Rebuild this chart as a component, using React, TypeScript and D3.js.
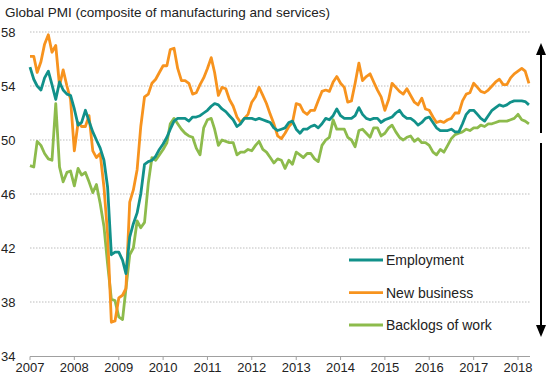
import React from "react";
import * as d3 from "d3";

// Monthly readings, Jan 2007 .. Apr 2018
const START_YEAR = 2007;
const employment = [
  55.4, 54.5, 54.0, 53.7, 54.6, 55.1, 54.1, 53.0, 54.3, 53.7, 53.4, 53.3,
  52.3, 51.1, 51.3, 52.2, 51.4, 50.6, 50.0, 49.4, 48.5, 46.5, 41.5, 41.7,
  41.7, 41.1, 40.1, 42.8, 43.8, 44.6, 46.0, 48.2, 48.4, 48.5, 48.8, 49.3,
  49.7, 50.2, 50.8, 51.4, 51.6, 51.6, 51.6, 51.4, 51.7, 51.7, 51.8, 52.0,
  52.2, 52.5, 52.7, 52.6, 52.3, 52.1, 51.8, 51.5, 51.0, 51.2, 51.6, 51.6,
  51.6, 51.5, 51.6, 51.5, 51.4, 51.3, 50.9, 50.7, 50.8, 50.9, 51.3, 51.4,
  50.8, 50.5, 50.8, 50.8, 51.0, 51.1, 50.9, 51.2, 51.6, 51.5, 51.8, 52.3,
  51.8, 51.6, 51.6, 51.6, 51.8, 52.4, 51.9, 51.6, 51.5, 51.6, 51.6, 51.3,
  51.5, 51.6, 51.7, 52.0, 52.2, 51.8, 51.6, 51.6, 51.4, 51.1, 51.3, 51.6,
  51.7, 51.3, 50.9, 50.7, 50.7, 50.7, 50.8, 50.6, 50.6, 51.2, 51.9, 52.2,
  52.2, 51.9, 51.6, 51.4, 51.8, 52.2, 52.4, 52.6, 52.5, 52.6, 52.8, 52.9,
  52.9, 52.9, 52.85, 52.6,
];
const newBusiness = [
  56.2, 56.2, 55.0, 55.8, 57.1, 57.8, 56.5, 57.0, 54.0, 55.2, 54.0, 53.0,
  49.2, 51.3, 51.0, 51.0, 51.8, 49.2, 48.7, 49.0, 46.5, 43.0, 36.5, 36.6,
  38.3, 38.5, 39.0, 45.4, 46.3, 47.8, 51.0, 53.2, 53.4, 54.2, 54.5, 55.0,
  55.5, 55.5, 56.7, 56.8, 55.3, 54.4, 54.4, 54.2, 53.4, 53.5, 54.1, 54.6,
  55.3, 56.1, 55.0, 53.3, 53.9, 53.8, 53.0, 52.5, 51.7, 51.3, 51.6, 51.9,
  52.8, 53.2, 53.9, 53.3, 52.7, 51.9, 51.2, 50.3, 50.1, 50.5, 51.0, 51.3,
  52.7, 52.6, 52.1, 51.9, 52.2, 52.2, 52.9, 53.6, 53.7, 53.6, 54.3, 54.7,
  54.2, 53.9, 52.8, 52.9, 54.2, 55.7, 54.4, 54.7, 54.9, 54.3, 53.7, 53.2,
  52.2, 53.0, 54.2, 53.9, 53.6, 53.4, 53.8, 53.3, 52.8, 52.6, 53.1, 52.3,
  52.2, 51.7, 51.3, 51.4, 51.3, 51.5, 51.6, 52.0, 52.0, 52.9, 53.4, 53.5,
  54.2, 53.9, 53.6, 53.5, 53.7, 54.0, 54.3, 54.5, 54.1, 54.1, 54.6, 54.9,
  55.1, 55.3, 55.1, 54.2,
];
const backlogs = [
  48.1, 48.0, 49.9, 49.6, 49.0, 48.6, 48.5, 52.7, 48.0, 46.9, 47.6, 47.7,
  46.6, 47.9, 47.4, 47.6, 46.9, 46.1, 46.7, 45.3, 43.6, 40.8, 38.2, 38.1,
  36.9, 36.7, 39.0, 41.5, 42.0, 44.0, 43.5, 43.9, 46.8, 48.7, 48.5, 48.9,
  49.3, 49.8, 51.2, 51.6, 51.2, 50.8, 50.5, 50.3, 50.2, 49.4, 48.9, 50.9,
  51.5, 51.6, 50.8, 49.6, 50.0, 49.9, 49.8, 49.8, 48.9, 49.1, 49.1, 49.3,
  49.2, 49.6, 49.9, 49.3, 49.1, 48.7, 48.3, 48.6, 48.5, 47.9, 48.5, 48.2,
  49.1, 48.9, 48.7, 49.0, 49.0, 48.6, 48.4, 49.6, 50.0, 50.2, 51.5, 50.8,
  50.8, 50.8, 50.2, 50.0, 49.5, 50.7, 50.8, 50.5, 50.2, 50.9, 50.9, 50.3,
  50.5, 50.9, 51.1, 50.6, 50.2, 50.0, 50.2, 50.3, 49.9, 50.1, 49.8, 49.8,
  49.6, 49.1, 48.9, 49.3, 49.1, 49.6, 50.1, 50.4, 50.5, 50.6, 50.8, 50.7,
  50.9, 50.9, 51.1, 51.0, 51.2, 51.2, 51.3, 51.4, 51.4, 51.4, 51.5, 51.6,
  51.9, 51.5, 51.4, 51.2,
];
const yearTicks = [2007, 2008, 2009, 2010, 2011, 2012, 2013, 2014, 2015, 2016, 2017, 2018];
const valueTicks = [34, 38, 42, 46, 50, 54, 58];
const seriesNames = ["Employment", "New business", "Backlogs of work"];
const seriesColors = ["#11918a", "#f7931e", "#8dbb4c"];
const title = "Global PMI (composite of manufacturing and services)";

const W = 550;
const H = 383;
const FONT = "'Liberation Sans', Arial, sans-serif";

export default function App() {
  const x = d3
    .scaleTime()
    .domain([new Date(2007, 0, 1), new Date(2018, 0, 1)])
    .range([30, 518]);
  const y = d3.scaleLinear().domain([34, 58]).range([356, 32]);
  const dates = employment.map((_, i) => new Date(START_YEAR, i, 1));
  const line = d3
    .line<number>()
    .x((_, i) => x(dates[i]))
    .y((v) => y(v));
  const series = [employment, newBusiness, backlogs];
  const gridRight = 530;
  const arrowX = 541;
  const legendY = [260, 292.7, 325];

  return (
    <svg
      width={W}
      height={H}
      style={{ position: "absolute", left: 0, top: 0, background: "#fff" }}
      fontFamily={FONT}
    >
      <text x={5} y={17} fontSize={13.5} fill="#222">
        {title}
      </text>
      {valueTicks.map((t) => (
        <g key={t}>
          {t !== 34 && (
            <line
              x1={30}
              x2={gridRight}
              y1={y(t)}
              y2={y(t)}
              stroke="#bdbdbd"
              strokeWidth={1}
              strokeDasharray="1.5,1.5"
            />
          )}
          <text x={1} y={y(t)} dy="0.36em" fontSize={13} fill="#222">
            {t}
          </text>
        </g>
      ))}
      <line x1={30} x2={gridRight} y1={356.5} y2={356.5} stroke="#a0a0a0" strokeWidth={1} />
      {yearTicks.map((yr) => {
        const xx = x(new Date(yr, 0, 1));
        return (
          <g key={yr}>
            <line x1={xx} x2={xx} y1={356.5} y2={360} stroke="#a0a0a0" strokeWidth={1} />
            <text x={xx} y={372} fontSize={13} textAnchor="middle" fill="#222">
              {yr}
            </text>
          </g>
        );
      })}
      {[2, 1, 0].map((k) => (
        <path
          key={k}
          d={line(series[k]) || ""}
          fill="none"
          stroke={seriesColors[k]}
          strokeWidth={2.8}
          strokeLinejoin="round"
        />
      ))}
      {seriesNames.map((n, k) => (
        <g key={n}>
          <line
            x1={349}
            x2={383}
            y1={legendY[k]}
            y2={legendY[k]}
            stroke={seriesColors[k]}
            strokeWidth={2.8}
          />
          <text x={386} y={legendY[k]} dy="0.36em" fontSize={14} fill="#222">
            {n}
          </text>
        </g>
      ))}
      <line x1={arrowX} x2={arrowX} y1={54} y2={133} stroke="#000" strokeWidth={2} />
      <path d={`M${arrowX},43 L${arrowX - 5},55 L${arrowX + 5},55 Z`} fill="#000" />
      <line x1={arrowX} x2={arrowX} y1={143} y2={326} stroke="#000" strokeWidth={2} />
      <path d={`M${arrowX},337 L${arrowX - 5},325 L${arrowX + 5},325 Z`} fill="#000" />
    </svg>
  );
}
